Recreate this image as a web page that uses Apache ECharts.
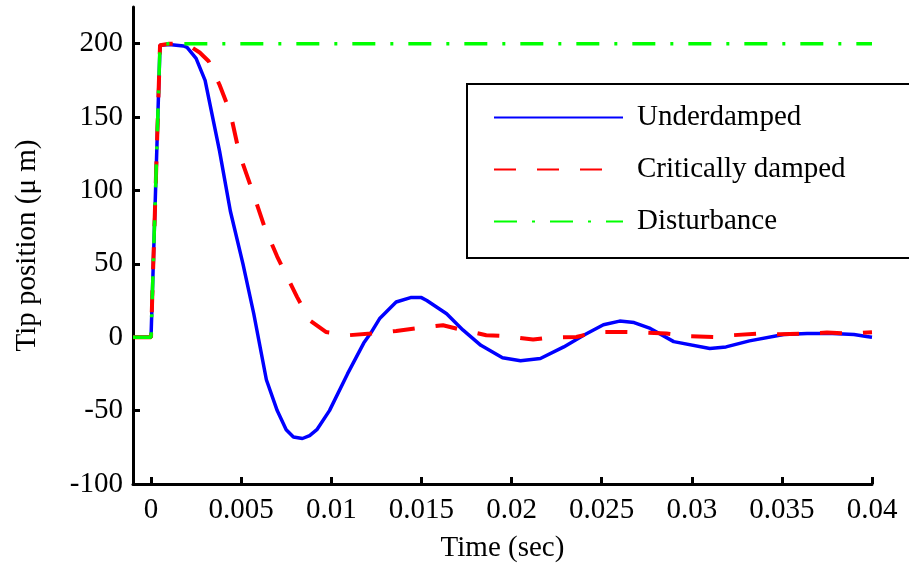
<!DOCTYPE html>
<html>
<head>
<meta charset="utf-8">
<script src="https://cdn.jsdelivr.net/npm/echarts@6/dist/echarts.min.js"></script>
<style>
  html, body { margin: 0; padding: 0; background: #fff; overflow: hidden; }
  #chart { width: 909px; height: 575px; }
</style>
</head>
<body>
<div id="chart"></div>
<script>
// values (time in sec, tip position in um)
var timeUnder = [-0.001, 0, 0.0005, 0.001, 0.0018, 0.002, 0.0025, 0.003, 0.0033, 0.0038, 0.0044,
  0.0051, 0.0057, 0.0064, 0.007, 0.0075, 0.0079, 0.0084, 0.0088, 0.0092, 0.0099, 0.0109,
  0.0118, 0.0122, 0.0127, 0.0136, 0.0144, 0.015, 0.0153, 0.0164, 0.0173, 0.0183, 0.0195,
  0.0205, 0.0216, 0.0229, 0.024, 0.0251, 0.026, 0.0268, 0.0277, 0.029, 0.031, 0.0319,
  0.0332, 0.0351, 0.0364, 0.0378, 0.039, 0.0397, 0.04];
var posUnder = [0, 0, 199, 199.5, 198.5, 197.5, 190, 175, 157, 127, 86,
  50, 16, -29, -50, -63, -68, -69, -67, -63, -50, -25,
  -4, 3, 13, 24, 27, 27, 25, 16, 5, -5.5, -14,
  -16, -14.5, -6.6, 1.4, 8.5, 11, 10, 6, -3, -7.7, -6.6,
  -2.5, 1.8, 2.5, 2.5, 1.8, 0.5, 0];

var timeCrit = [-0.001, 0, 0.0005, 0.001, 0.0015, 0.0022, 0.0027, 0.0032, 0.0038, 0.0044,
  0.0049, 0.0057, 0.0063, 0.007, 0.0081, 0.0088, 0.0097, 0.011, 0.0122, 0.0136, 0.0147,
  0.0162, 0.0173, 0.0186, 0.0197, 0.0212, 0.0221, 0.0236, 0.0247, 0.0261, 0.0273, 0.0286,
  0.0299, 0.0312, 0.0323, 0.0338, 0.0349, 0.0364, 0.0375, 0.0388, 0.04];
var posCrit = [0, 0, 199, 200, 200, 198, 194, 188, 172, 153,
  125, 97, 75, 55, 27.5, 11.6, 3.6, 1.4, 2.5, 4.3, 6,
  8.2, 4.8, 1.4, 0.7, -1.6, -0.2, 0.2, 3.6, 3.6, 3.2, 2.5,
  0.7, 0.2, 1.4, 2.5, 2, 2.5, 3.2, 2.5, 3.4];

var timeDist = [-0.001, 0, 0.0005, 0.04];
var posDist = [0, 0, 200, 200];

var xTicks = [0, 0.005, 0.01, 0.015, 0.02, 0.025, 0.03, 0.035, 0.04];
var yTicks = [-100, -50, 0, 50, 100, 150, 200];

function zip(xs, ys) {
  return xs.map(function (x, i) { return [x, ys[i]]; });
}

var font = "'Liberation Serif', 'Times New Roman', serif";
var chart = echarts.init(document.getElementById('chart'));

chart.setOption({
  animation: false,
  backgroundColor: '#fff',
  textStyle: { fontFamily: font, color: '#000' },
  grid: { left: 133, right: 37, top: 7, bottom: 91 },
  // legend frame is open on the right, it runs off the figure edge
  graphic: [{
    type: 'polyline',
    z: 3,
    shape: { points: [[1000, 84], [467, 84], [467, 258], [1000, 258]] },
    style: { fill: 'none', stroke: '#000', lineWidth: 2 }
  }],
  xAxis: {
    type: 'value',
    min: -0.001,
    max: 0.04,
    name: 'Time (sec)',
    nameLocation: 'middle',
    nameGap: 50,
    nameTextStyle: { fontFamily: font, fontSize: 29, color: '#000' },
    axisLine: { show: true, onZero: false, lineStyle: { color: '#000', width: 3 } },
    axisTick: { show: true, inside: true, length: 7, customValues: xTicks, lineStyle: { color: '#000', width: 3 } },
    axisLabel: {
      customValues: xTicks, margin: 12, fontFamily: font, fontSize: 29, color: '#000',
      formatter: function (v) { return String(v); }
    },
    splitLine: { show: false }
  },
  yAxis: {
    type: 'value',
    min: -100,
    max: 225,
    name: 'Tip position (μ m)',
    nameLocation: 'middle',
    nameGap: 91,
    nameTextStyle: { fontFamily: font, fontSize: 29, color: '#000' },
    axisLine: { show: true, onZero: false, lineStyle: { color: '#000', width: 3 } },
    axisTick: { show: true, inside: true, length: 7, customValues: yTicks, lineStyle: { color: '#000', width: 3 } },
    axisLabel: {
      customValues: yTicks, margin: 10, fontFamily: font, fontSize: 29, color: '#000',
      formatter: function (v) { return String(v); }
    },
    splitLine: { show: false }
  },
  legend: {
    orient: 'vertical',
    left: 467,
    top: 84,
    z: 5,
    padding: [19, 20, 18, 26],
    itemWidth: 129,
    itemHeight: 30,
    itemGap: 23,
    borderWidth: 0,
    itemStyle: { opacity: 0, borderWidth: 0 },
    textStyle: { fontFamily: font, fontSize: 29, color: '#000', padding: [0, 0, 0, 9] },
    data: ['Underdamped', 'Critically damped', 'Disturbance']
  },
  series: [
    {
      name: 'Underdamped',
      type: 'line',
      showSymbol: false,
      symbol: 'none',
      data: zip(timeUnder, posUnder),
      lineStyle: { color: '#0000ff', width: 3.5 },
      itemStyle: { color: '#0000ff' }
    },
    {
      name: 'Critically damped',
      type: 'line',
      showSymbol: false,
      symbol: 'none',
      data: zip(timeCrit, posCrit),
      lineStyle: { color: '#ff0000', width: 4, type: [22, 21] },
      itemStyle: { color: '#ff0000' }
    },
    {
      name: 'Disturbance',
      type: 'line',
      showSymbol: false,
      symbol: 'none',
      data: zip(timeDist, posDist),
      lineStyle: { color: '#00ff00', width: 3.5, type: [23, 15, 3, 15] },
      itemStyle: { color: '#00ff00' }
    }
  ]
});
</script>
</body>
</html>
